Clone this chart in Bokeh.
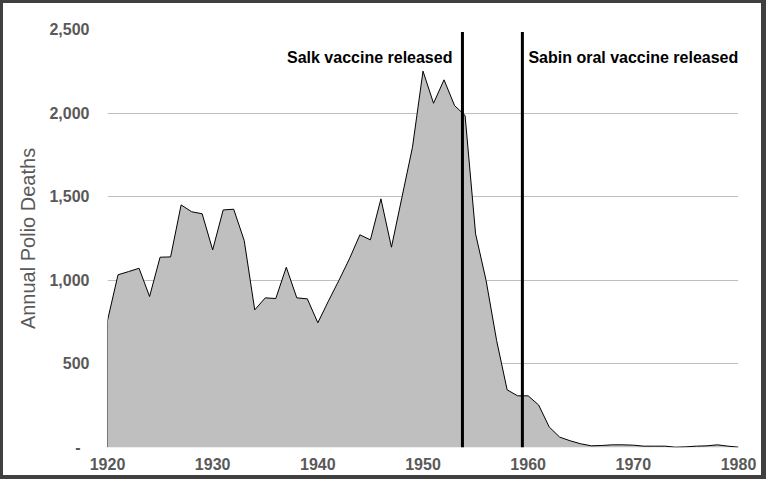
from bokeh.plotting import figure
from bokeh.models import FixedTicker, CustomJSTickFormatter, Label
from bokeh.embed import file_html
from bokeh.resources import INLINE

years = list(range(1920, 1981))
deaths = [760, 1033, 1052, 1072, 903, 1138, 1140, 1451, 1410, 1398,
          1182, 1421, 1425, 1238, 823, 895, 891, 1078, 895, 889,
          746, 875, 999, 1128, 1272, 1242, 1487, 1198, 1497, 1796,
          2251, 2059, 2199, 2045, 1986, 1278, 999, 640, 345, 309,
          309, 254, 123, 62, 40, 22, 10, 12, 16, 16,
          14, 8, 8, 8, 2, 4, 8, 10, 16, 8,
          2]
event_years = [1953.75, 1959.45]
event_labels = ["Salk vaccine released", "Sabin oral vaccine released"]
event_line_top = 2485
label_y = 2335
y_ticks = [0, 500, 1000, 1500, 2000, 2500]
x_ticks = [1920, 1930, 1940, 1950, 1960, 1970, 1980]

FONT = "Liberation Sans"
GREY = "#595959"

p = figure(frame_width=631, frame_height=418,
           min_border_left=104, min_border_right=23,
           min_border_top=26, min_border_bottom=28,
           x_range=(1920, 1980), y_range=(0, 2500),
           output_backend="svg", toolbar_location=None)
p.styles = {"border-style": "solid", "border-color": "#404040",
            "border-width": "3px 5px 4px 3px"}
p.outline_line_color = None
p.background_fill_color = "white"
p.border_fill_color = "white"

p.xgrid.grid_line_color = None
p.ygrid.grid_line_color = "#bfbfbf"
p.ygrid.grid_line_width = 1

p.varea(x=years, y1=0, y2=deaths, fill_color="#bfbfbf")
p.line(x=[years[0]] + years, y=[0] + deaths, line_color="black", line_width=1)

p.segment(x0=event_years, y0=[0] * len(event_years),
          x1=event_years, y1=[event_line_top] * len(event_years),
          line_color="black", line_width=3)

p.add_layout(Label(x=event_years[0], y=label_y, x_offset=-10, text=event_labels[0],
                   text_align="right", text_baseline="middle",
                   text_font=FONT, text_font_style="bold", text_font_size="16px",
                   text_color="black"))
p.add_layout(Label(x=event_years[1], y=label_y, x_offset=6, text=event_labels[1],
                   text_align="left", text_baseline="middle",
                   text_font=FONT, text_font_style="bold", text_font_size="16px",
                   text_color="black"))

p.yaxis.ticker = FixedTicker(ticks=y_ticks)
p.xaxis.ticker = FixedTicker(ticks=x_ticks)
p.yaxis.formatter = CustomJSTickFormatter(code="""
    if (tick == 0) { return "-\u00a0\u00a0"; }
    return tick.toLocaleString("en-US");
""")
for ax in (p.xaxis[0], p.yaxis[0]):
    ax.axis_line_color = None
    ax.major_tick_line_color = None
    ax.minor_tick_line_color = None
    ax.major_tick_out = 0
    ax.major_tick_in = 0
    ax.minor_tick_out = 0
    ax.major_label_text_font = FONT
    ax.major_label_text_font_style = "bold"
    ax.major_label_text_font_size = "16px"
    ax.major_label_text_color = GREY

p.yaxis.major_label_standoff = 18
p.xaxis.major_label_standoff = 10
p.yaxis.axis_label = "Annual Polio Deaths"
p.yaxis.axis_label_text_font = FONT
p.yaxis.axis_label_text_font_style = "normal"
p.yaxis.axis_label_text_font_size = "20px"
p.yaxis.axis_label_text_color = GREY
p.yaxis.axis_label_standoff = 7

open("out.html", "w").write(file_html(p, INLINE))
